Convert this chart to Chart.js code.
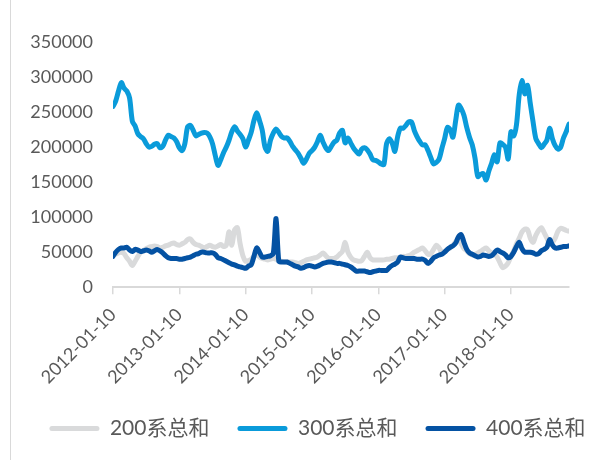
<!DOCTYPE html>
<html>
<head>
<meta charset="utf-8">
<script src="https://cdn.jsdelivr.net/npm/chart.js@4/dist/chart.umd.min.js"></script>
<style>
  html, body { margin: 0; padding: 0; background: #fff; }
  #wrap { position: relative; width: 603px; height: 460px; }
  #frame { position: absolute; left: 10px; top: 0; width: 1px; height: 460px; background: #d9d9d9; }
  canvas { position: absolute; left: 0; top: 0; }
</style>
</head>
<body>
<div id="wrap">
  <div id="frame"></div>
  <canvas id="chart" width="603" height="460"></canvas>
</div>
<script>
// ─── Data (half-monthly readings, 2012-01 .. 2018-11) ───
const yearLabels = ["2012-01-10", "2013-01-10", "2014-01-10", "2015-01-10", "2016-01-10", "2017-01-10", "2018-01-10"];
const yTicks = [0, 50000, 100000, 150000, 200000, 250000, 300000, 350000];
const seriesNames = ["200系总和", "300系总和", "400系总和"];

const sum200 = [
  46000, 47000, 49000, 50000, 48000, 42000, 37000, 31000, 37000, 44000,
  50000, 52000, 55000, 57000, 58000, 59000, 58000, 56000, 57000, 59000,
  60000, 62000, 63000, 61000, 60000, 62000, 64000, 68000, 69000, 64000,
  61000, 60000, 58000, 56000, 58000, 60000, 58000, 57000, 59000, 61000,
  58000, 60000, 79000, 60000, 82000, 85000, 62000, 45000, 37000, 38000,
  40000, 44000, 47000, 43000, 41000, 40000, 39000, 40000, 41000, 40000,
  38000, 37000, 36000, 36000, 36000, 36000, 35000, 34000, 35000, 37000,
  39000, 40000, 41000, 42000, 43000, 46000, 49000, 45000, 41000, 41000,
  41000, 43000, 47000, 51000, 64000, 50000, 43000, 39000, 38000, 37000,
  38000, 44000, 50000, 42000, 39000, 39000, 39000, 39000, 39000, 40000,
  40000, 41000, 42000, 42000, 43000, 44000, 44000, 45000, 47000, 50000,
  52000, 54000, 56000, 52000, 47000, 48000, 54000, 60000, 56000, 50000,
  51000, 54000, 56000, 60000, 65000, 70000, 62000, 55000, 52000, 48000,
  46000, 47000, 49000, 51000, 54000, 56000, 52000, 49000, 47000, 43000,
  35000, 28000, 30000, 35000, 44000, 52000, 62000, 70000, 79000, 83000,
  82000, 70000, 64000, 74000, 81000, 85000, 78000, 70000, 62000, 64000,
  70000, 80000, 84000, 83000, 81000, 80000
];

const sum300 = [
  258000, 266000, 280000, 292000, 284000, 280000, 270000, 237000, 230000, 219000,
  215000, 212000, 205000, 200000, 201000, 204000, 205000, 199000, 201000, 210000,
  217000, 215000, 213000, 208000, 199000, 195000, 205000, 229000, 231000, 224000,
  216000, 218000, 220000, 221000, 220000, 215000, 205000, 188000, 174000, 182000,
  192000, 200000, 210000, 222000, 229000, 223000, 218000, 212000, 200000, 210000,
  221000, 238000, 249000, 238000, 224000, 200000, 194000, 210000, 220000, 226000,
  221000, 215000, 213000, 213000, 208000, 201000, 196000, 191000, 184000, 177000,
  183000, 191000, 195000, 200000, 208000, 217000, 207000, 199000, 195000, 201000,
  207000, 210000, 220000, 224000, 206000, 213000, 206000, 199000, 194000, 190000,
  197000, 199000, 196000, 190000, 182000, 181000, 179000, 176000, 175000, 205000,
  212000, 206000, 194000, 215000, 227000, 227000, 231000, 236000, 236000, 224000,
  215000, 208000, 203000, 203000, 195000, 185000, 176000, 178000, 183000, 198000,
  212000, 228000, 225000, 214000, 238000, 260000, 255000, 245000, 228000, 214000,
  203000, 184000, 158000, 161000, 162000, 153000, 166000, 177000, 189000, 179000,
  206000, 204000, 200000, 183000, 222000, 216000, 232000, 275000, 295000, 276000,
  288000, 262000, 236000, 212000, 205000, 199000, 204000, 210000, 227000, 212000,
  202000, 197000, 200000, 213000, 222000, 233000
];

const sum400 = [
  44000, 50000, 54000, 56000, 56000, 57000, 53000, 51000, 54000, 53000,
  51000, 52000, 53000, 52000, 50000, 52000, 54000, 52000, 49000, 45000,
  42000, 41000, 41000, 41000, 40000, 40000, 41000, 42000, 43000, 45000,
  47000, 48000, 50000, 50000, 49000, 49000, 49000, 47000, 42000, 41000,
  39000, 37000, 35000, 33000, 32000, 30000, 29000, 28000, 27000, 30000,
  32000, 44000, 56000, 50000, 43000, 43000, 44000, 45000, 48000, 98000,
  37000, 36000, 36000, 36000, 34000, 32000, 30000, 29000, 27000, 28000,
  30000, 31000, 30000, 29000, 30000, 32000, 34000, 35000, 36000, 36000,
  35000, 34000, 34000, 33000, 32000, 31000, 29000, 26000, 23000, 23000,
  23000, 23000, 22000, 21000, 22000, 23000, 24000, 24000, 24000, 24000,
  28000, 31000, 33000, 36000, 43000, 42000, 41000, 41000, 41000, 41000,
  40000, 40000, 40000, 38000, 34000, 37000, 42000, 44000, 46000, 47000,
  50000, 54000, 57000, 59000, 63000, 72000, 75000, 64000, 54000, 49000,
  47000, 45000, 43000, 44000, 46000, 45000, 44000, 45000, 49000, 53000,
  51000, 49000, 46000, 42000, 44000, 50000, 58000, 64000, 55000, 50000,
  50000, 50000, 49000, 47000, 48000, 52000, 54000, 57000, 68000, 60000,
  56000, 56000, 57000, 58000, 58000, 59000
];

const STEPS_PER_YEAR = 24;
const positions = sum300.map((_, i) => i);

// ─── Styles ───
const FONT = "Lato, 'Noto Sans CJK SC', sans-serif";
const TEXT = "#595959";
const AXIS = "#d9d9d9";

// shift legend to the right like the original
const legendShift = {
  id: "legendShift",
  afterLayout(chart) {
    const lg = chart.legend;
    if (!lg) return;
    lg.left += 11;
    lg.right += 11;
  }
};

new Chart(document.getElementById("chart"), {
  type: "line",
  data: {
    labels: positions,
    datasets: [
      { label: seriesNames[0], data: sum200, borderColor: "#d9dadb", backgroundColor: "#d9dadb", order: 3 },
      { label: seriesNames[1], data: sum300, borderColor: "#0a9bda", backgroundColor: "#0a9bda", order: 2 },
      { label: seriesNames[2], data: sum400, borderColor: "#0452a3", backgroundColor: "#0452a3", order: 1 },
    ],
  },
  options: {
    responsive: false,
    animation: false,
    devicePixelRatio: 1,
    elements: {
      line: { borderWidth: 5, tension: 0.3, borderCapStyle: "round", borderJoinStyle: "round" },
      point: { radius: 0 },
    },
    layout: { padding: { left: 10, right: 0, top: 42, bottom: 11 } },
    plugins: {
      tooltip: { enabled: false },
      legend: {
        position: "bottom",
        labels: {
          sort: (a, b) => a.datasetIndex - b.datasetIndex,
          generateLabels: chart =>
            Chart.defaults.plugins.legend.labels.generateLabels(chart).map(l => ({ ...l, lineWidth: 0 })),
          boxWidth: 50,
          boxHeight: 5,
          useBorderRadius: true,
          borderRadius: 2.5,
          padding: 28,
          color: TEXT,
          font: { family: FONT, size: 21 },
        },
      },
    },
    scales: {
      x: {
        type: "linear",
        min: 0,
        max: positions.length - 1,
        afterBuildTicks: axis => {
          axis.ticks = yearLabels.map((_, k) => ({ value: k * STEPS_PER_YEAR }));
        },
        // let the rotated labels run into the legend's top padding
        afterFit: axis => { axis.height -= 8; },
        ticks: {
          minRotation: 45,
          maxRotation: 45,
          padding: 10,
          color: TEXT,
          font: { family: FONT, size: 18 },
          callback: v => yearLabels[Math.round(v / STEPS_PER_YEAR)],
        },
        grid: { drawOnChartArea: false, drawTicks: true, tickLength: 7, color: AXIS, lineWidth: 1.5 },
        border: { display: true, color: AXIS, width: 2 },
      },
      y: {
        min: 0,
        max: 350000,
        afterBuildTicks: axis => {
          axis.ticks = yTicks.map(v => ({ value: v }));
        },
        afterFit: axis => { axis.width = 103; },
        ticks: {
          padding: 12,
          color: TEXT,
          font: { family: FONT, size: 18 },
          callback: v => String(v),
        },
        grid: { display: false },
        border: { display: false },
      },
      // empty spacer on the right so the plot ends where the original does
      spacer: {
        position: "right",
        afterFit: axis => { axis.width = 34; },
        ticks: { display: false },
        grid: { display: false },
        border: { display: false },
      },
    },
  },
  plugins: [legendShift],
});
</script>
</body>
</html>
